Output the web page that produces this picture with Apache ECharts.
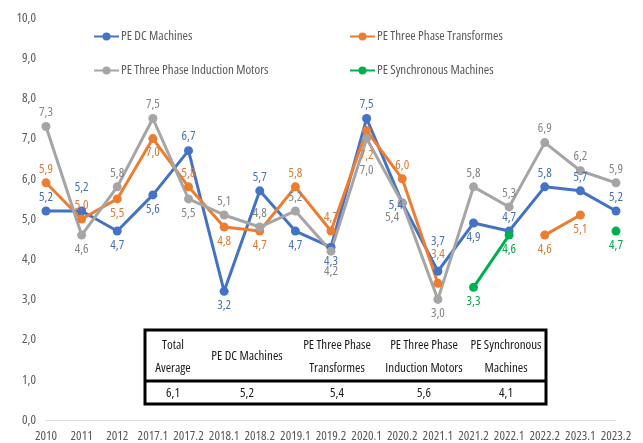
<!DOCTYPE html>
<html>
<head>
<meta charset="utf-8">
<script src="https://cdn.jsdelivr.net/npm/echarts@6/dist/echarts.min.js"></script>
<style>
  html, body { margin: 0; padding: 0; background: #ffffff; }
  #chart { width: 643px; height: 443px; }
</style>
</head>
<body>
<div id="chart"></div>
<script>
// Periods on the horizontal axis
const periods = ['2010', '2011', '2012', '2017.1', '2017.2', '2018.1', '2018.2', '2019.1', '2019.2',
  '2020.1', '2020.2', '2021.1', '2021.2', '2022.1', '2022.2', '2023.1', '2023.2'];

// Scores per machine group (null = not assessed in that period)
const dcMachines      = [5.2, 5.2, 4.7, 5.6, 6.7, 3.2, 5.7, 4.7, 4.3, 7.5, 5.4, 3.7, 4.9, 4.7, 5.8, 5.7, 5.2];
const transformes     = [5.9, 5.0, 5.5, 7.0, 5.8, 4.8, 4.7, 5.8, 4.7, 7.2, 6.0, 3.4, null, null, 4.6, 5.1, null];
const inductionMotors = [7.3, 4.6, 5.8, 7.5, 5.5, 5.1, 4.8, 5.2, 4.2, 7.0, 5.4, 3.0, 5.8, 5.3, 6.9, 6.2, 5.9];
const synchronous     = [null, null, null, null, null, null, null, null, null, null, null, null, 3.3, 4.6, null, null, 4.7];

// Summary table
const averageHeaders = ['Total\nAverage', 'PE DC Machines', 'PE Three Phase\nTransformes',
  'PE Three Phase\nInduction Motors', 'PE Synchronous\nMachines'];
const averageValues = [6.1, 5.2, 5.4, 5.6, 4.1];

// Narrow sans: Open Sans in its condensed width
const FAMILY = "'Open Sans', sans-serif";
const STRETCH = 'condensed';
const fmt = v => v.toFixed(1).replace('.', ',');

// Where each value label sits: T = above, B = below, L = left
const sides = {
  dc:  'TTBBTBTBBTLTBTTTT',
  tr:  'TTBBTBBTTBTT--BB-',
  im:  'TBTTBTTTBBBBTTTTT',
  syn: 'BBBBBBBBBBBBBBBBB'
};
// Small nudges where labels would collide
const nudges = {
  dc:  { 1: [0, -10], 10: [8, 2], 11: [0, -16] },
  tr:  { 9: [0, 11], 11: [0, -15] },
  im:  { 8: [0, 6], 9: [0, 18], 10: [-10, 0] },
  syn: {}
};
const posName = { T: 'top', B: 'bottom', L: 'left' };

function buildData(values, key) {
  return values.map((v, i) => {
    if (v === null) return null;
    const lbl = { position: posName[sides[key][i]] || 'top' };
    if (nudges[key][i]) lbl.offset = nudges[key][i];
    return { value: v, label: lbl };
  });
}

function lineSeries(name, values, key, color, labelColor) {
  return {
    name: name,
    type: 'line',
    data: buildData(values, key),
    connectNulls: false,
    symbol: 'circle',
    symbolSize: 9,
    showSymbol: true,
    lineStyle: { width: 3, color: color },
    itemStyle: { color: color },
    label: {
      show: true,
      distance: 3,
      fontFamily: FAMILY,
      fontWeight: STRETCH,
      fontSize: 13,
      color: labelColor,
      formatter: p => fmt(p.value)
    },
    emphasis: { disabled: true },
    animation: false
  };
}

const chart = echarts.init(document.getElementById('chart'), null, { renderer: 'canvas' });

// Summary table graphic
const tableLeft = 145, tableRight = 546, tableTop = 330, tableMid = 381, tableBottom = 404;
const colCenters = [173, 247, 337, 424, 506];
const cellFont = STRETCH + ' 13px ' + FAMILY;
const tableGraphic = [
  { type: 'rect', shape: { x: tableLeft, y: tableTop, width: tableRight - tableLeft, height: tableBottom - tableTop },
    style: { fill: '#ffffff', stroke: '#000000', lineWidth: 3 }, z: 100 },
  { type: 'line', shape: { x1: tableLeft, y1: tableMid, x2: tableRight, y2: tableMid },
    style: { stroke: '#000000', lineWidth: 3 }, z: 101 }
];
averageHeaders.forEach((h, i) => {
  tableGraphic.push({
    type: 'text', x: colCenters[i], y: (tableTop + tableMid) / 2 + 1, z: 102,
    style: { text: h, fill: '#1a1a1a', font: cellFont, align: 'center', verticalAlign: 'middle', lineHeight: 23 }
  });
  tableGraphic.push({
    type: 'text', x: colCenters[i], y: (tableMid + tableBottom) / 2 + 1, z: 102,
    style: { text: fmt(averageValues[i]), fill: '#1a1a1a', font: cellFont, align: 'center', verticalAlign: 'middle' }
  });
});

const legendBase = {
  orient: 'vertical',
  padding: 0,
  itemWidth: 25,
  itemHeight: 10,
  itemGap: 21,
  textStyle: { fontFamily: FAMILY, fontWeight: STRETCH, fontSize: 13, color: '#595959', padding: [0, 0, 0, -3] },
  selectedMode: false
};

chart.setOption({
  backgroundColor: '#ffffff',
  animation: false,
  grid: { left: 46, right: 27, top: 18, bottom: 23, containLabel: false },
  legend: [
    Object.assign({}, legendBase, { left: 93, top: 30, data: ['PE DC Machines', 'PE Three Phase Induction Motors'] }),
    Object.assign({}, legendBase, { left: 349, top: 30, data: ['PE Three Phase Transformes', 'PE Synchronous Machines'] })
  ],
  xAxis: {
    type: 'category',
    data: periods,
    boundaryGap: false,
    axisLine: { show: true, lineStyle: { color: '#d9d9d9', width: 1 } },
    axisTick: { show: false },
    axisLabel: { color: '#595959', fontFamily: FAMILY, fontWeight: STRETCH, fontSize: 13, margin: 10, interval: 0 },
    splitLine: { show: false }
  },
  yAxis: {
    type: 'value',
    min: 0, max: 10, interval: 1,
    axisLine: { show: false },
    axisTick: { show: false },
    splitLine: { show: false },
    axisLabel: { color: '#595959', fontFamily: FAMILY, fontWeight: STRETCH, fontSize: 13, margin: 10, formatter: v => fmt(v) }
  },
  series: [
    lineSeries('PE DC Machines', dcMachines, 'dc', '#4472C4', '#4A70B8'),
    lineSeries('PE Three Phase Transformes', transformes, 'tr', '#ED7D31', '#D97B3A'),
    lineSeries('PE Three Phase Induction Motors', inductionMotors, 'im', '#A5A5A5', '#858585'),
    lineSeries('PE Synchronous Machines', synchronous, 'syn', '#00B050', '#00A84A')
  ],
  graphic: tableGraphic
});
</script>
</body>
</html>
